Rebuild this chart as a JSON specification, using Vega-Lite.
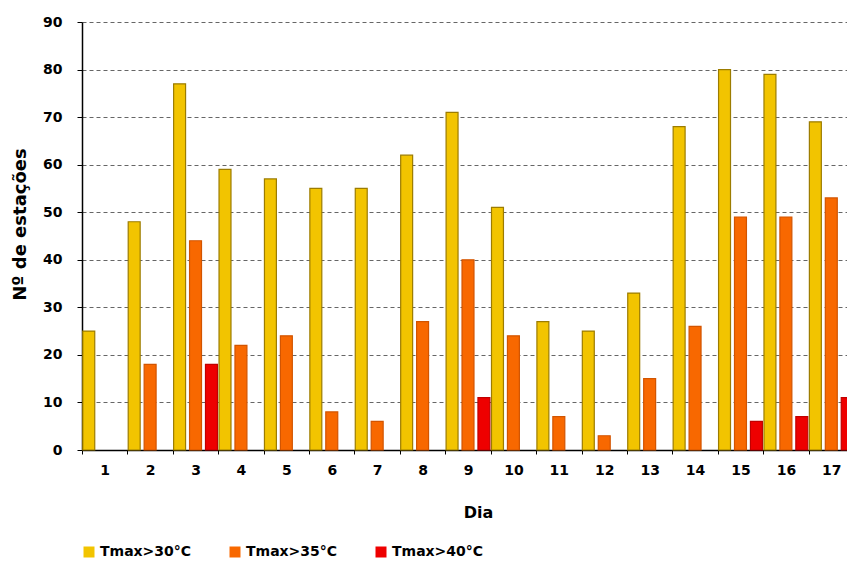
{
  "$schema": "https://vega.github.io/schema/vega-lite/v6.json",
  "width": 765,
  "height": 428,
  "autosize": {"type": "none"},
  "padding": {"left": 82, "top": 22, "right": 0, "bottom": 115},
  "background": "white",
  "config": {
    "font": "DejaVu Sans",
    "view": {"stroke": null}
  },
  "data": {
    "values": [
      {"dia": 1, "serie": "Tmax>30°C", "n": 25},
      {"dia": 2, "serie": "Tmax>30°C", "n": 48},
      {"dia": 2, "serie": "Tmax>35°C", "n": 18},
      {"dia": 3, "serie": "Tmax>30°C", "n": 77},
      {"dia": 3, "serie": "Tmax>35°C", "n": 44},
      {"dia": 3, "serie": "Tmax>40°C", "n": 18},
      {"dia": 4, "serie": "Tmax>30°C", "n": 59},
      {"dia": 4, "serie": "Tmax>35°C", "n": 22},
      {"dia": 5, "serie": "Tmax>30°C", "n": 57},
      {"dia": 5, "serie": "Tmax>35°C", "n": 24},
      {"dia": 6, "serie": "Tmax>30°C", "n": 55},
      {"dia": 6, "serie": "Tmax>35°C", "n": 8},
      {"dia": 7, "serie": "Tmax>30°C", "n": 55},
      {"dia": 7, "serie": "Tmax>35°C", "n": 6},
      {"dia": 8, "serie": "Tmax>30°C", "n": 62},
      {"dia": 8, "serie": "Tmax>35°C", "n": 27},
      {"dia": 9, "serie": "Tmax>30°C", "n": 71},
      {"dia": 9, "serie": "Tmax>35°C", "n": 40},
      {"dia": 9, "serie": "Tmax>40°C", "n": 11},
      {"dia": 10, "serie": "Tmax>30°C", "n": 51},
      {"dia": 10, "serie": "Tmax>35°C", "n": 24},
      {"dia": 11, "serie": "Tmax>30°C", "n": 27},
      {"dia": 11, "serie": "Tmax>35°C", "n": 7},
      {"dia": 12, "serie": "Tmax>30°C", "n": 25},
      {"dia": 12, "serie": "Tmax>35°C", "n": 3},
      {"dia": 13, "serie": "Tmax>30°C", "n": 33},
      {"dia": 13, "serie": "Tmax>35°C", "n": 15},
      {"dia": 14, "serie": "Tmax>30°C", "n": 68},
      {"dia": 14, "serie": "Tmax>35°C", "n": 26},
      {"dia": 15, "serie": "Tmax>30°C", "n": 80},
      {"dia": 15, "serie": "Tmax>35°C", "n": 49},
      {"dia": 15, "serie": "Tmax>40°C", "n": 6},
      {"dia": 16, "serie": "Tmax>30°C", "n": 79},
      {"dia": 16, "serie": "Tmax>35°C", "n": 49},
      {"dia": 16, "serie": "Tmax>40°C", "n": 7},
      {"dia": 17, "serie": "Tmax>30°C", "n": 69},
      {"dia": 17, "serie": "Tmax>35°C", "n": 53},
      {"dia": 17, "serie": "Tmax>40°C", "n": 11}
    ]
  },
  "mark": {"type": "bar", "strokeWidth": 1.2},
  "encoding": {
    "x": {
      "field": "dia",
      "type": "ordinal",
      "scale": {"range": [0, 772], "paddingInner": 0, "paddingOuter": 0},
      "axis": {
        "title": "Dia",
        "titleFontSize": 16,
        "titleFontWeight": "bold",
        "titleColor": "black",
        "titlePadding": 27,
        "titleX": 396,
        "labelAngle": 0,
        "labelFontSize": 14,
        "labelFontWeight": "bold",
        "labelColor": "black",
        "labelPadding": 9,
        "tickBand": "extent",
        "tickSize": 4,
        "tickColor": "black",
        "domainColor": "black",
        "domainWidth": 1.5,
        "grid": false
      }
    },
    "xOffset": {
      "field": "serie",
      "type": "nominal",
      "scale": {"domain": ["Tmax>30°C", "Tmax>35°C", "Tmax>40°C"], "paddingInner": 0.25, "paddingOuter": 0.05}
    },
    "y": {
      "field": "n",
      "type": "quantitative",
      "scale": {"domain": [0, 90], "nice": false},
      "axis": {
        "title": "Nº de estações",
        "titleFontSize": 18,
        "titleFontWeight": "bold",
        "titleColor": "black",
        "titlePadding": 13,
        "titleY": 202,
        "values": [0, 10, 20, 30, 40, 50, 60, 70, 80, 90],
        "labelFontSize": 14,
        "labelFontWeight": "bold",
        "labelColor": "black",
        "labelPadding": 15,
        "tickSize": 5,
        "tickColor": "black",
        "domainColor": "black",
        "domainWidth": 1.5,
        "grid": true,
        "gridColor": "#666666",
        "gridDash": [4, 3],
        "gridWidth": 1
      }
    },
    "fill": {
      "field": "serie",
      "type": "nominal",
      "scale": {"domain": ["Tmax>30°C", "Tmax>35°C", "Tmax>40°C"], "range": ["#F2C400", "#F86800", "#EE0000"]},
      "legend": {
        "title": null,
        "orient": "none",
        "direction": "horizontal",
        "legendX": 0,
        "legendY": 523,
        "symbolType": "square",
        "symbolSize": 121,
        "symbolStrokeWidth": 0,
        "labelFontSize": 14,
        "labelFontWeight": "bold",
        "labelColor": "black",
        "labelOffset": 4,
        "columnPadding": 36
      }
    },
    "stroke": {
      "field": "serie",
      "type": "nominal",
      "scale": {"domain": ["Tmax>30°C", "Tmax>35°C", "Tmax>40°C"], "range": ["#9C7C00", "#D25400", "#C00000"]},
      "legend": null
    }
  }
}
